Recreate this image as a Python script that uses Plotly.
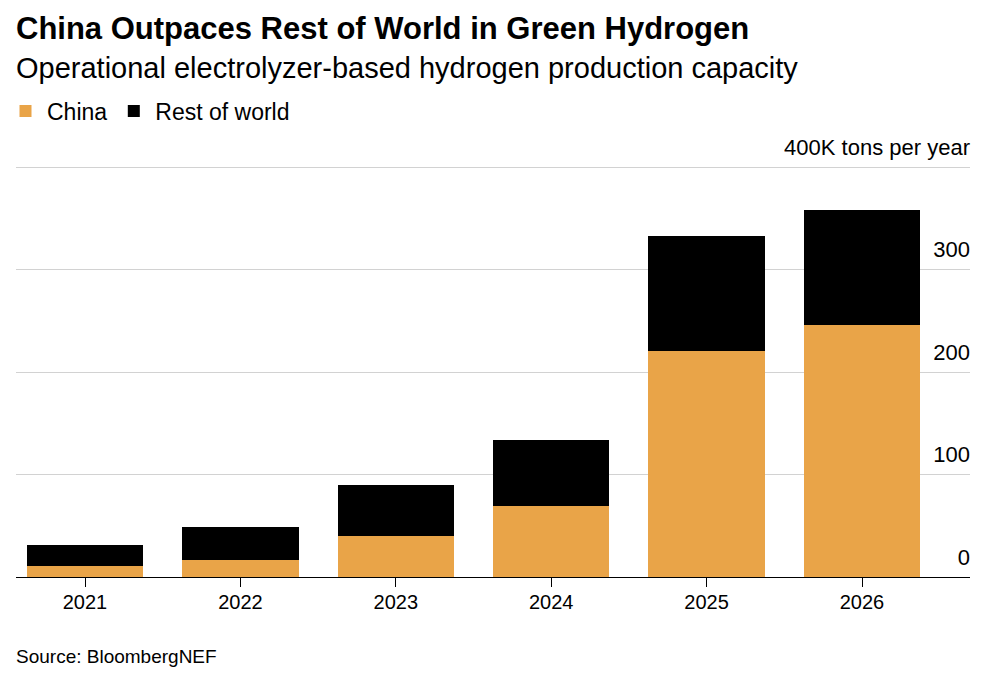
import plotly.graph_objects as go

years = ["2021", "2022", "2023", "2024", "2025", "2026"]
china = [10.4, 16.3, 40.4, 69.3, 220.5, 245.9]
rest_of_world = [21.2, 32.5, 49.7, 64.7, 112.5, 112.5]
y_tickvals = [0, 100, 200, 300, 400]
y_ticktext = ["0", "100", "200", "300", "400K tons per year"]

ORANGE = "#E9A448"
BLACK = "#000000"
FONT = "Liberation Sans, Arial, sans-serif"
W, H = 1000, 681
ML, MR, MT, MB = 16, 30, 166, 104
PW = W - ML - MR
PH = H - MT - MB


def py(pix):
    """pixel row -> paper y"""
    return (H - MB - pix) / PH


def px(pix):
    """pixel column -> paper x"""
    return (pix - ML) / PW


fig = go.Figure()
fig.add_trace(go.Bar(x=years, y=china, name="China",
                     marker=dict(color=ORANGE, line=dict(width=0))))
fig.add_trace(go.Bar(x=years, y=rest_of_world, name="Rest of world",
                     marker=dict(color=BLACK, line=dict(width=0))))

fig.update_layout(
    barmode="stack",
    bargap=0.25,
    width=W, height=H,
    margin=dict(l=ML, r=MR, t=MT, b=MB, autoexpand=False),
    paper_bgcolor="white", plot_bgcolor="white",
    font=dict(family=FONT, color="#000000"),
    showlegend=True,
    legend=dict(orientation="h", xref="container", yref="container",
                x=0.004, y=1 - 111 / H, xanchor="left", yanchor="middle",
                font=dict(size=23, family=FONT), itemwidth=33,
                traceorder="normal", bgcolor="rgba(0,0,0,0)"),
    xaxis=dict(type="category", range=[-0.444, 5.695], showgrid=False,
               tickmode="array", tickvals=years, ticktext=years,
               showline=True, linecolor="#000000", linewidth=1,
               ticks="outside", ticklen=9, tickcolor="#000000", tickwidth=1,
               ticklabeloverflow="allow", ticklabelstandoff=-2,
               tickfont=dict(size=20, family=FONT, color="#000000"),
               fixedrange=True),
    yaxis=dict(range=[0, 401], side="right", tickvals=y_tickvals, ticktext=y_ticktext,
               ticklabelposition="inside", ticklabelshift=-20, ticklabelstandoff=-3,
               ticklabeloverflow="allow",
               ticks="", showgrid=True, gridcolor="#d2d2d2", gridwidth=1,
               zeroline=False, showline=False,
               tickfont=dict(size=22, family=FONT, color="#000000"),
               fixedrange=True),
)

fig.add_annotation(text="<b>China Outpaces Rest of World in Green Hydrogen</b>",
                   xref="paper", yref="paper", x=px(14), y=py(28),
                   showarrow=False, xanchor="left", yanchor="middle",
                   font=dict(size=31, family=FONT, color="#000000"))
fig.add_annotation(text="Operational electrolyzer-based hydrogen production capacity",
                   xref="paper", yref="paper", x=px(14), y=py(68.5),
                   showarrow=False, xanchor="left", yanchor="middle",
                   font=dict(size=29, family=FONT, color="#000000"))
fig.add_annotation(text="Source: BloombergNEF",
                   xref="paper", yref="paper", x=px(14), y=py(656),
                   showarrow=False, xanchor="left", yanchor="middle",
                   font=dict(size=19, family=FONT, color="#000000"))

fig.write_html("out.html", config={"displayModeBar": False},
               post_script="document.body.style.margin='0';")
